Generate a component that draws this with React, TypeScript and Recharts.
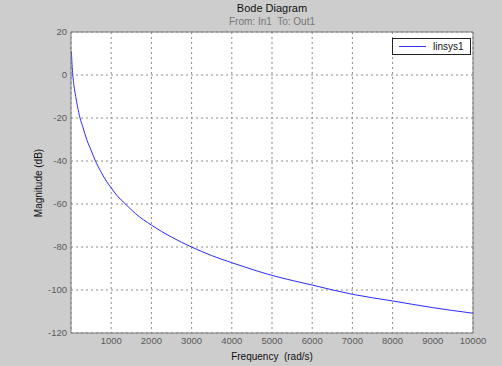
import React from "react";
import {
  LineChart,
  Line,
  XAxis,
  YAxis,
  CartesianGrid,
  ReferenceLine,
} from "recharts";

// frequency (rad/s) and magnitude (dB)
const freqs = [
  10, 25, 45, 70, 117, 160, 224, 300, 390, 500, 597, 750, 888, 1000, 1150, 1343, 1600,
  2000, 2500, 3000, 3500, 4000, 4500, 5000, 6000, 7000, 8000, 9000, 10000,
];
const magDb = [
  11, 5, 0, -4.5, -10, -14.5, -20, -24.5, -30, -35, -39.5, -45.2, -49.6, -52.5, -56.2, -59.8, -64.4,
  -69.8, -75.4, -80, -84, -87.3, -90.4, -93.2, -97.7, -102, -105.1, -108.2, -110.8,
];
const xTicks = [1000, 2000, 3000, 4000, 5000, 6000, 7000, 8000, 9000, 10000];
const yTicks = [-120, -100, -80, -60, -40, -20, 0, 20];

const data = freqs.map((f, i) => ({ f, mag: magDb[i] }));

const bg = "#cdcdcd";
const font = "'Liberation Sans', Arial, sans-serif";
const tickStyle = { fontSize: 9.5, fill: "#5a5a5a", fontFamily: font };
const frame = "#7a7a7a";

function LegendBox() {
  return (
    <div
      style={{
        position: "absolute",
        left: 392,
        top: 38,
        width: 79,
        height: 17,
        border: "1px solid #222",
        background: "#fff",
        display: "flex",
        alignItems: "center",
        fontFamily: font,
        fontSize: 10,
        color: "#111",
        boxSizing: "border-box",
      }}
    >
      <span style={{ width: 27, height: 1, background: "#3333ff", marginLeft: 6, marginRight: 7 }} />
      linsys1
    </div>
  );
}

export default function App() {
  return (
    <div style={{ position: "absolute", left: 0, top: 0, width: 502, height: 366, background: bg, fontFamily: font }}>
      <div style={{ position: "absolute", top: 2, left: 0, width: 544, textAlign: "center", fontSize: 11, color: "#111" }}>
        Bode Diagram
      </div>
      <div style={{ position: "absolute", top: 16, left: 0, width: 544, textAlign: "center", fontSize: 10, color: "#777" }}>
        From: In1&nbsp; To: Out1
      </div>
      <div style={{ position: "absolute", top: 351, left: 0, width: 544, textAlign: "center", fontSize: 10, color: "#111" }}>
        Frequency&nbsp; (rad/s)
      </div>
      <div
        style={{
          position: "absolute",
          left: 38,
          top: 183,
          transform: "translate(-50%, -50%) rotate(-90deg)",
          fontSize: 10,
          color: "#111",
          whiteSpace: "nowrap",
        }}
      >
        Magnitude (dB)
      </div>
      <LineChart width={502} height={366} data={data} margin={{ top: 32, right: 29, bottom: 0, left: 0 }}>
        <CartesianGrid stroke="#8a8a8a" strokeDasharray="2 3" fill="#fff" fillOpacity={1} />
        <XAxis
          dataKey="f"
          type="number"
          domain={[0, 10000]}
          ticks={xTicks}
          allowDataOverflow
          height={33}
          tickLine={false}
          tickSize={0}
          tickMargin={4}
          axisLine={{ stroke: frame }}
          tick={tickStyle}
        />
        <YAxis
          type="number"
          domain={[-120, 20]}
          ticks={yTicks}
          allowDataOverflow
          width={71}
          tickLine={false}
          tickSize={0}
          tickMargin={4}
          axisLine={{ stroke: frame }}
          tick={tickStyle}
        />
        <ReferenceLine y={20} stroke={frame} strokeDasharray="0" />
        <ReferenceLine x={10000} stroke={frame} strokeDasharray="0" />
        <Line
          dataKey="mag"
          type="monotone"
          stroke="#2a2aff"
          strokeWidth={1}
          dot={false}
          isAnimationActive={false}
        />
      </LineChart>
      <LegendBox />
    </div>
  );
}
